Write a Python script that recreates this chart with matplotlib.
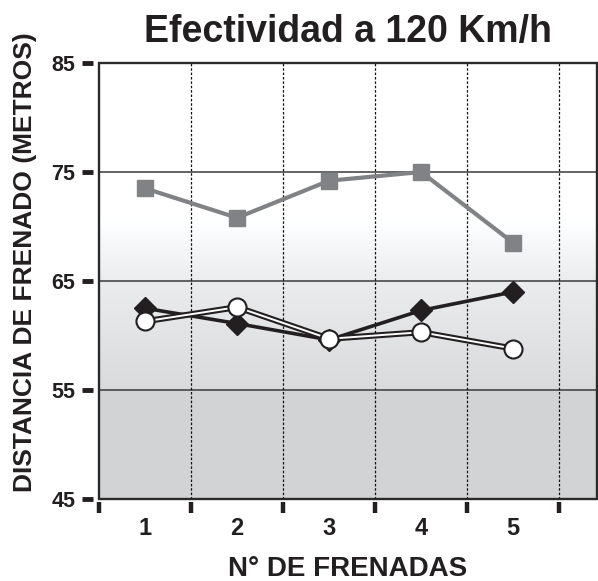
import numpy as np
import matplotlib
matplotlib.use("Agg")
import matplotlib.pyplot as plt
import matplotlib.patheffects as pe
from matplotlib.patches import Rectangle

plt.rcParams['font.family'] = ['Liberation Sans', 'DejaVu Sans']
plt.rcParams['font.weight'] = 'bold'

# ---- data ----
frenadas = [1, 2, 3, 4, 5]
serie_cuadrados = [73.5, 70.8, 74.2, 75.0, 68.5]
serie_rombos = [62.5, 61.1, 59.6, 62.3, 64.0]
serie_circulos = [61.3, 62.6, 59.7, 60.3, 58.8]
y_ticks = [45, 55, 65, 75, 85]
x_labels = ["1", "2", "3", "4", "5"]
title = "Efectividad a 120 Km/h"
xlabel = "N° DE FRENADAS"
ylabel = "DISTANCIA DE FRENADO (METROS)"

ink = '#231f20'
gray = '#808285'

W, H = 598, 581
fig = plt.figure(figsize=(W / 100, H / 100), dpi=100)
ax = fig.add_axes([99 / W, (H - 499) / H, (597 - 99) / W, (499 - 63) / H])

xmin, xmax = 0.5, 5.91
ymin, ymax = 45, 85
ax.set_xlim(xmin, xmax)
ax.set_ylim(ymin, ymax)

# background gradient
yy = np.linspace(ymin, ymax, 400)
stops_y = [45, 54.99, 55.0, 65, 71, 85]
stops_c = [0.822, 0.822, 0.85, 0.92, 1.0, 1.0]
vals = np.interp(yy, stops_y, stops_c)
img = np.zeros((len(yy), 1, 3))
img[:, 0, 0] = vals
img[:, 0, 1] = np.clip(vals + 0.006, 0, 1)
img[:, 0, 2] = np.clip(vals + 0.012, 0, 1)
ax.imshow(img, extent=(xmin, xmax, ymin, ymax), origin='lower', aspect='auto',
          zorder=0, interpolation='bilinear')

# horizontal grid lines
for yv in y_ticks[1:-1]:
    ax.axhline(yv, color='#3a3a3a', lw=1.1, zorder=1)
# vertical dotted lines
for xv in np.arange(1.5, 6.0, 1.0):
    ax.axvline(xv, color='#111111', lw=0.9, ls=(0, (2, 1.5)), zorder=1)

# series
ax.plot(frenadas, serie_cuadrados, color=gray, lw=3, marker='s', ms=11.5,
        mfc=gray, mec=gray, zorder=3)
ax.plot(frenadas, serie_rombos, color=ink, lw=2.6, marker='D', ms=11.5,
        mfc=ink, mec=ink, zorder=4)
ax.plot(frenadas, serie_circulos, color='white', lw=1.4, zorder=5,
        path_effects=[pe.Stroke(linewidth=4.4, foreground=ink), pe.Normal()])
ax.plot(frenadas, serie_circulos, ls='none', marker='o', ms=13, mfc='white',
        mec=ink, mew=1.5, zorder=6)

# ticks
ax.set_yticks(y_ticks)
ax.set_xticks(frenadas)
ax.set_xticklabels(x_labels)
ax.set_xticks(np.arange(0.5, 6.0, 1.0), minor=True)
ax.tick_params(axis='y', which='major', direction='out', length=8, width=3.5,
               color=ink, pad=4.5, labelsize=15.5, labelcolor=ink)
ax.tick_params(axis='x', which='major', length=0, pad=11, labelsize=17,
               labelcolor=ink)
ax.tick_params(axis='x', which='minor', direction='out', length=8, width=3.2,
               color=ink)

ax.spines['left'].set_position(('outward', 4.5))
ax.spines['bottom'].set_position(('outward', 2.2))
for s in ax.spines.values():
    s.set_visible(False)
ax.add_patch(Rectangle((0, 0), 1, 1, transform=ax.transAxes, fill=False,
                       ec='#2a2a2a', lw=1.7, zorder=10, clip_on=False))

# texts
fig.text(348 / W, (H - 42) / H, title, ha='center', va='baseline',
         fontsize=27, fontweight='bold', color=ink)
fig.text(348 / W, (H - 576) / H, xlabel, ha='center', va='baseline',
         fontsize=20, fontweight='bold', color=ink)
fig.text(25 / W, (H - 262) / H, ylabel, ha='center', va='center',
         rotation=90, fontsize=19, fontweight='bold', color=ink)

fig.savefig('out.png', dpi=100)
